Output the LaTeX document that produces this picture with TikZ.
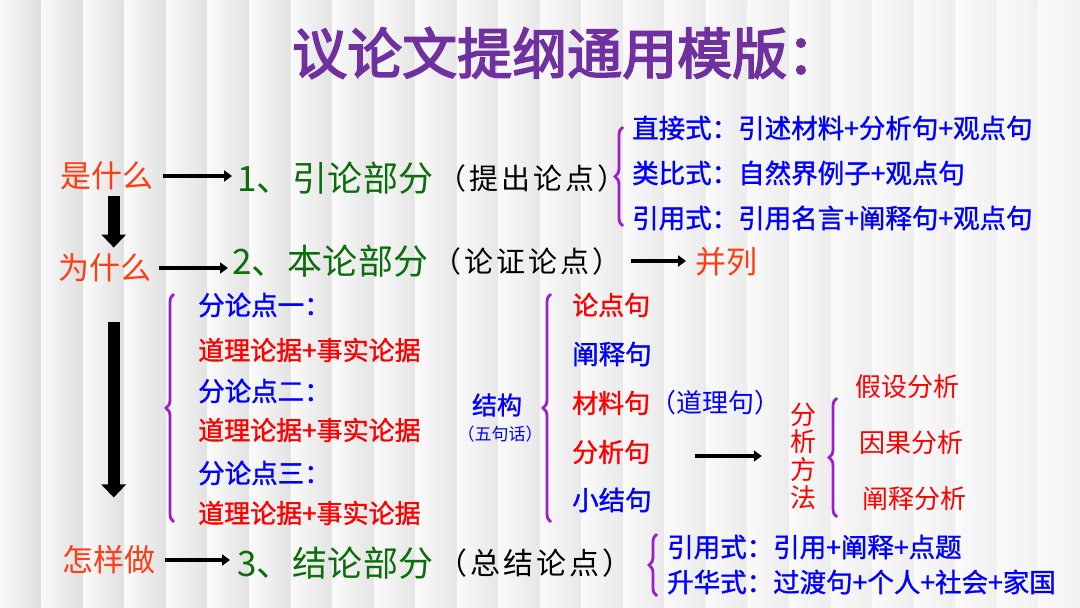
\documentclass[tikz,border=0pt]{standalone}
\usepackage{fontspec}
\usepackage{xcolor}
\usepackage{tikz}
\usetikzlibrary{positioning,arrows.meta,decorations.pathreplacing}

\setmainfont{Noto Sans CJK SC}
\newfontfamily\cjkbf[FakeBold=1.2]{Noto Sans CJK SC}
\newfontfamily\cjktitle[FakeBold=3]{Noto Sans CJK SC}
\newcommand\setfs[1]{\fontsize{#1}{#1}\selectfont}

\definecolor{titlepurple}{HTML}{7030A0}
\definecolor{askred}{HTML}{FF3C14}
\definecolor{partgreen}{HTML}{0B6E0B}
\definecolor{itemblue}{HTML}{0000FF}
\definecolor{itemred}{HTML}{FF0000}
\definecolor{bracepurple}{HTML}{9A1FC8}

\tikzset{
	base/.style={inner sep=0pt, anchor=west},
	ask/.style={base, text=askred, font=\setfs{31}},
	part/.style={base, text=partgreen, font=\setfs{35}\addfontfeature{LetterSpace=1}},
	note/.style={base, text=black, font=\setfs{29}\addfontfeature{LetterSpace=10}},
	item/.style={base, text=itemblue, font=\cjkbf\setfs{26.5}},
	reditem/.style={base, text=itemred, font=\cjkbf\setfs{26}},
	harrow/.style={line width=4pt, -{Triangle[length=8pt,width=11pt]}},
	varrow/.style={line width=12pt, -{Triangle[length=13pt,width=24pt]}},
	curly/.style={draw=bracepurple, line width=2.8pt, decorate,
		decoration={brace, amplitude=8pt}}
}

\begin{document}
\begin{tikzpicture}[x=1pt, y=-1pt]
	\useasboundingbox (0,0) rectangle (1080,608);
	% striped background
	\foreach \i in {0,...,25} {
		\pgfmathsetmacro\g{13-0.3*\i}
		\shade[left color=black!2, right color=black!\g]
			(\i*41.54,0) rectangle ++(41.54,608);
	}
	% title
	\node[base, text=titlepurple, font=\cjktitle\setfs{55}] (title) at (292,53) {议论文提纲通用模版：};

	% left column
	\node[ask] (q1) at (60,176) {是什么};
	\node[ask] (q2) at (58,268) {为什么};
	\node[ask] (q3) at (62,560) {怎样做};

	% parts
	\node[part] (p1) at (237,178) {1、引论部分};
	\node[note] (n1) at ([xshift=4pt]p1.east) {（提出论点）};
	\node[part] (p2) at (232,261) {2、本论部分};
	\node[note] (n2) at ([xshift=4pt]p2.east) {（论证论点）};
	\node[ask] (bing) at (695,262) {并列};
	\node[part] (p3) at (237,563) {3、结论部分};
	\node[note, font=\setfs{30}\addfontfeature{LetterSpace=10}] (n3) at ([xshift=4pt]p3.east) {（总结论点）};

	% introduction types
	\node[item] (a1) at (632,128) {直接式：引述材料+分析句+观点句};
	\node[item] (a2) at (632,173) {类比式：自然界例子+观点句};
	\node[item] (a3) at (632,218) {引用式：引用名言+阐释句+观点句};

	% sub points
	\node[item] (b1) at (198,305) {分论点一：};
	\node[reditem] (b2) at (198,350) {道理论据+事实论据};
	\node[item] (b3) at (198,391) {分论点二：};
	\node[reditem] (b4) at (198,430) {道理论据+事实论据};
	\node[item] (b5) at (198,473) {分论点三：};
	\node[reditem] (b6) at (198,513) {道理论据+事实论据};

	% structure
	\node[text=itemblue, font=\cjkbf\setfs{25}, inner sep=0pt] (jg) at (497,405) {结构};
	\node[text=itemblue, font=\setfs{17}, inner sep=0pt] (wjh) at (500,434) {（五句话）};
	\node[reditem] (s1) at (572,305) {论点句};
	\node[item] (s2) at (572,354) {阐释句};
	\node[reditem] (s3) at (572,403) {材料句};
	\node[item, font=\setfs{26}] (s3b) at (s3.east) {（道理句）};
	\node[reditem] (s4) at (572,452) {分析句};
	\node[item] (s5) at (572,500) {小结句};

	% analysis methods
	\node[text=itemred, font=\fontsize{26}{27.7}\selectfont, align=center, inner sep=0pt] (fx) at (803,456) {分\\析\\方\\法};
	\node[base, text=itemred, font=\setfs{26}] (m1) at (855,387) {假设分析};
	\node[base, text=itemred, font=\setfs{26}] (m2) at (859,443) {因果分析};
	\node[base, text=itemred, font=\setfs{26}] (m3) at (862,499) {阐释分析};

	% conclusion types
	\node[item] (c1) at (667,547) {引用式：引用+阐释+点题};
	\node[item] (c2) at (667,582) {升华式：过渡句+个人+社会+家国};

	% arrows
	\draw[harrow, shorten <=10pt, shorten >=5pt] (q1) -- (q1 -| p1.west);
	\draw[harrow, shorten <=8pt, shorten >=4pt] (q2) -- (q2 -| p2.west);
	\draw[harrow, shorten <=10pt, shorten >=7pt] (q3) -- (q3 -| p3.west);
	\draw[harrow, shorten <=10pt, shorten >=9pt] (n2) -- (n2 -| bing.west);
	\draw[harrow, shorten <=45pt, shorten >=28pt] ([yshift=-4pt]s4.east) -- ([yshift=-4pt]s4.east -| fx.west);
	\draw[varrow, shorten <=6pt, shorten >=6pt] ([xshift=7pt]q1.south) -- ([xshift=7pt]q1.south |- q2.north);
	\draw[varrow, shorten <=40pt, shorten >=48pt] ([xshift=9pt]q2.south) -- ([xshift=9pt]q2.south |- q3.north);

	% braces
	\draw[curly] (623,226) -- (623,127);
	\draw[curly] (174,522) -- (174,294);
	\draw[curly] (551,522) -- (551,294);
	\draw[curly] (837,517) -- (837,398);
	\draw[curly] (657,596) -- (657,534);
\end{tikzpicture}
\end{document}
